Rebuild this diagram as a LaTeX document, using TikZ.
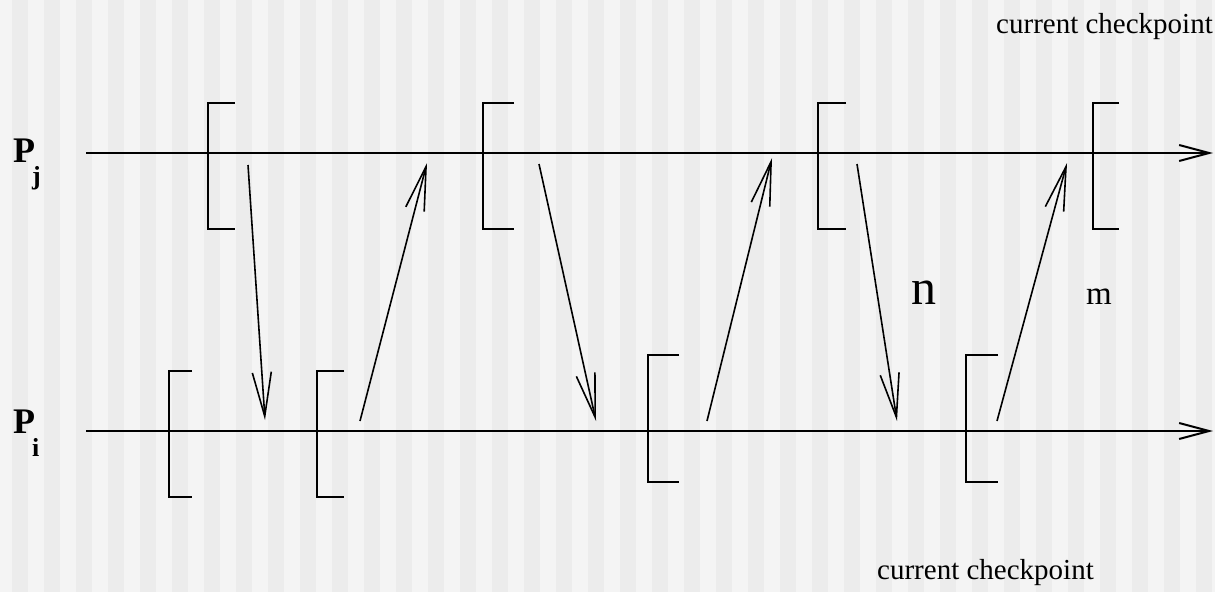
\documentclass[tikz,border=0pt]{standalone}
\usepackage{fontspec}
\setmainfont{Liberation Serif}
\usetikzlibrary{arrows.meta}
\definecolor{fondclair}{RGB}{244,244,244}
\definecolor{fondsombre}{RGB}{236,236,236}
\newcommand{\indproc}[2]{P\kern-3pt\raisebox{#1}{\fontsize{26}{30}\selectfont #2}}
\tikzset{
  axe/.style={line width=2pt, -{Straight Barb[length=30pt,width=16pt]}},
  msg/.style={line width=1.6pt, -{Straight Barb[length=44pt,width=19pt]}},
  chk/.style={line width=1.7pt},
  lbl/.style={inner sep=0pt},
}
\begin{document}
\begin{tikzpicture}[x=1pt, y=-1pt]
      \useasboundingbox (0,0) rectangle (1215,592);
      % fond rayé
      \fill[fondclair] (0,0) rectangle (1215,592);
      \foreach \x in {12,44,...,1196} {
        \fill[fondsombre] (\x,0) rectangle ++(16,592);
      }
      % axes des processus
      \coordinate (j0) at (86,153);
      \coordinate (j1) at (1213,153);
      \coordinate (i0) at (86,431);
      \coordinate (i1) at (1213,431);
      \draw[axe] (j0) -- (j1);
      \draw[axe] (i0) -- (i1);
      % noms des processus
      \node[lbl, anchor=base west, font=\bfseries\fontsize{36}{42}\selectfont] (labPj) at (13,162) {\indproc{-22pt}{j}};
      \node[lbl, anchor=base west, font=\bfseries\fontsize{36}{42}\selectfont] (labPi) at (13,433) {\indproc{-23pt}{i}};
      % points de reprise sur P_j
      \foreach \x/\w in {208/27, 483/31, 818/28, 1093/26} {
        \draw[chk] (\x+\w,103) -- (\x,103) -- (\x,229) -- (\x+\w,229);
      }
      % points de reprise sur P_i
      \foreach \x/\t/\b/\w in {169/371/497/23, 317/371/497/27, 648/355/482/31, 966/355/482/32} {
        \draw[chk] (\x+\w,\t) -- (\x,\t) -- (\x,\b) -- (\x+\w,\b);
      }
      % messages
      \coordinate (e1) at (248,165);  \coordinate (r1) at (265,420);
      \coordinate (e2) at (360,421);  \coordinate (r2) at (427,163);
      \coordinate (e3) at (539,164);  \coordinate (r3) at (596,421);
      \coordinate (e4) at (707,421);  \coordinate (r4) at (772,158);
      \coordinate (e5) at (857,164);  \coordinate (r5) at (897,421);
      \coordinate (e6) at (997,421);  \coordinate (r6) at (1067,163);
      \foreach \k in {1,...,6} {
        \draw[msg] (e\k) -- (r\k);
      }
      % étiquettes
      \node[lbl, font=\fontsize{50}{58}\selectfont] (n) at (924,293) {n};
      \node[lbl, font=\fontsize{33}{38}\selectfont] (m) at (1099,297) {m};
      \node[lbl, anchor=base east, font=\fontsize{29}{34}\selectfont] (cpj) at (1213,33) {current checkpoint};
      \node[lbl, anchor=base west, font=\fontsize{29}{34}\selectfont] (cpi) at (877,579) {current checkpoint};
\end{tikzpicture}
\end{document}
